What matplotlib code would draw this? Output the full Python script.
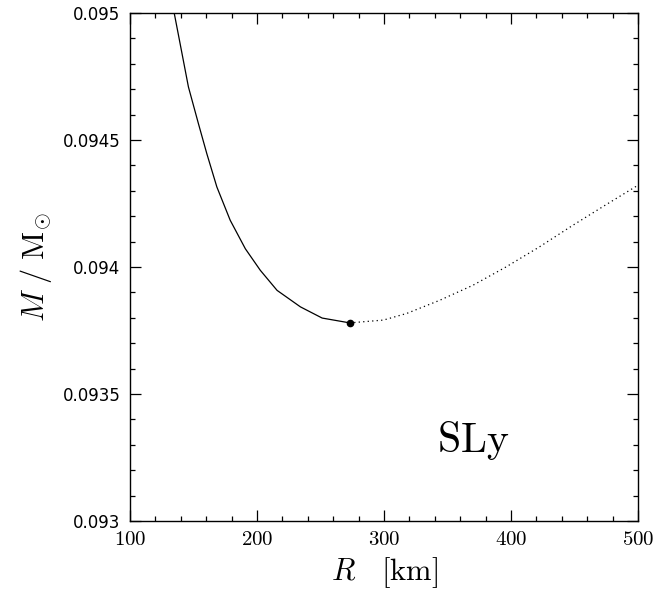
import matplotlib
matplotlib.use("Agg")
import matplotlib.pyplot as plt
from matplotlib.ticker import MultipleLocator, FuncFormatter

plt.rcParams['mathtext.fontset'] = 'cm'

# stable branch (solid)
r_stable = [133.5, 134.8, 138.7, 146.0, 153.9, 160.5, 168.4, 178.9, 190.8, 202.6, 215.8, 234.2, 251.3, 273.0]
m_stable = [0.09505, 0.0950, 0.094899, 0.094709, 0.094564, 0.094446, 0.094315, 0.094184, 0.094072,
            0.093987, 0.093908, 0.093843, 0.093799, 0.09378]

# unstable branch (dotted)
r_unstable = [273.0, 299.5, 317.8, 343.9, 370.0, 396.0, 422.0, 448.3, 474.4, 500.0]
m_unstable = [0.09378, 0.093791, 0.093817, 0.093869, 0.093928, 0.094, 0.094078, 0.094163, 0.094244, 0.094322]

# minimum-mass point
r_min = [273.0]
m_min = [0.09378]

fig = plt.figure(figsize=(6.64, 5.89), dpi=100)
ax = fig.add_axes([130 / 664, 1 - 521 / 589, 508 / 664, 508 / 589])

ax.plot(r_stable, m_stable, color='black', lw=0.9)
ax.plot(r_unstable, m_unstable, color='black', lw=0.9, linestyle=(0, (1, 2.6)))
ax.plot(r_min, m_min, 'o', color='black', markersize=4.5)

ax.set_xlim(100, 500)
ax.set_ylim(0.093, 0.095)

ax.xaxis.set_major_locator(MultipleLocator(100))
ax.xaxis.set_minor_locator(MultipleLocator(20))
ax.yaxis.set_major_locator(MultipleLocator(0.0005))
ax.yaxis.set_minor_locator(MultipleLocator(0.0001))

ax.xaxis.set_major_formatter(FuncFormatter(lambda v, p: r'$\mathrm{%d}$' % round(v)))
ax.yaxis.set_major_formatter(FuncFormatter(lambda v, p: '%g' % round(v, 5)))

ax.tick_params(which='both', direction='in', top=True, right=True, width=0.9)
ax.tick_params(which='major', length=8)
ax.tick_params(which='minor', length=3.8)
ax.tick_params(axis='x', labelsize=15, pad=6)
ax.tick_params(axis='y', labelsize=12, pad=7)
for s in ax.spines.values():
    s.set_linewidth(1.0)

ax.set_xlabel(r'$R\ \ \ [\mathrm{km}]$', fontsize=22, labelpad=4)
ax.set_ylabel(r'$M\ /\ \mathrm{M}_{\odot}$', fontsize=22, labelpad=6)

ax.text(370, 0.09327, r'$\mathrm{SLy}$', fontsize=30, ha='center', va='baseline')

fig.savefig('out.png', dpi=100)
